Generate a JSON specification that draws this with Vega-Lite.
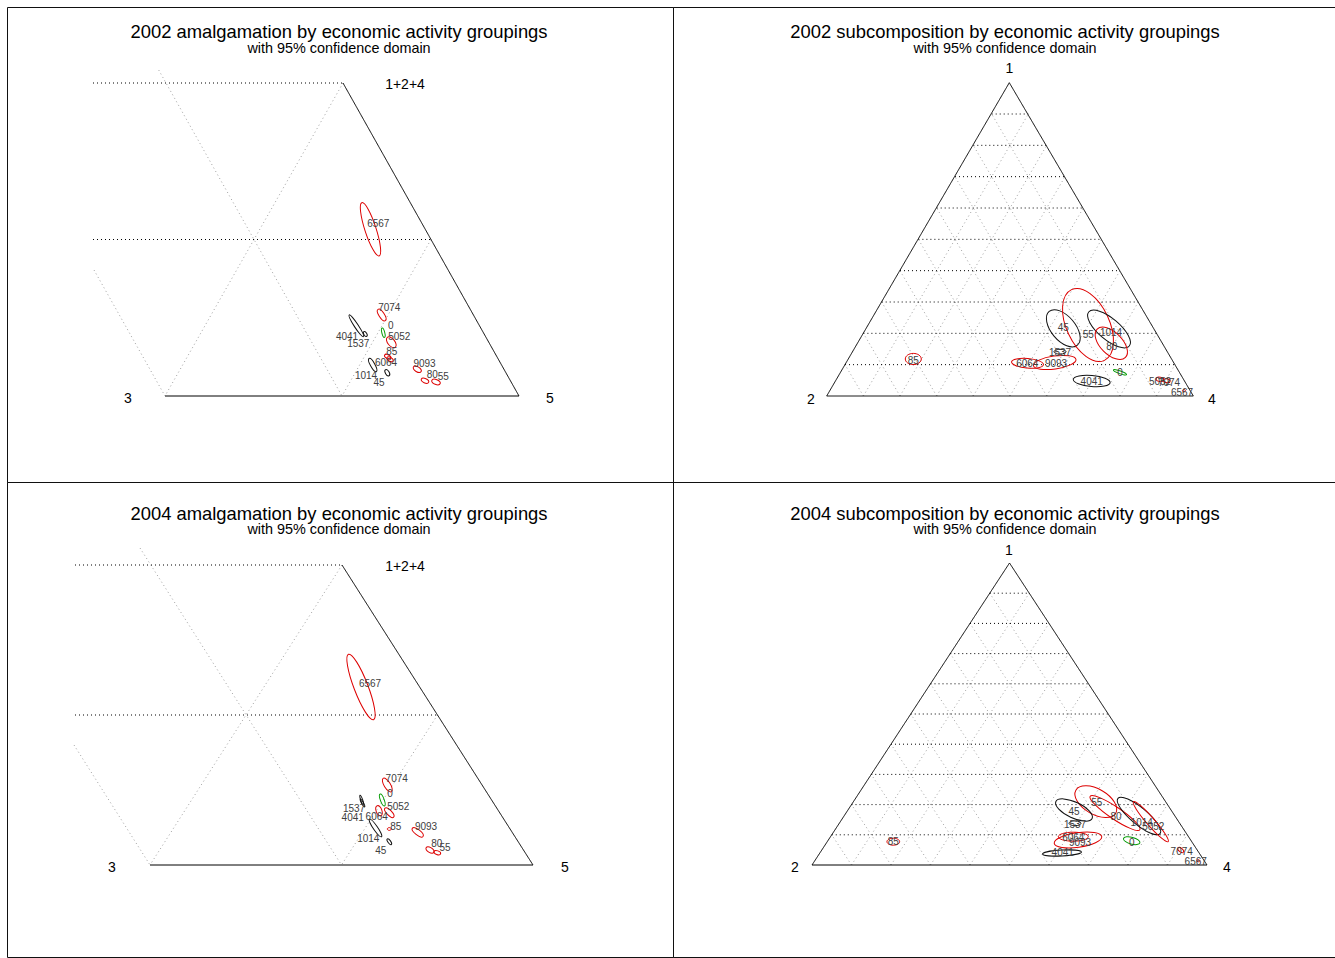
{
"$schema":"https://vega.github.io/schema/vega-lite/v6.json",
"padding":{"left":6,"top":6,"right":0,"bottom":0},
"background":"white",
"bounds":"flush",
"columns":2,
"spacing":0,
"config":{"view":{"stroke":"#111111","strokeWidth":1}},
"datasets":{
"lines":[
{"p":"a02","k":"fine","x":158.7,"y":70,"x2":342,"y2":396},
{"p":"a02","k":"fine","x":343,"y":83,"x2":165,"y2":396},
{"p":"a02","k":"fine","x":94,"y":270,"x2":165,"y2":396},
{"p":"a02","k":"fine","x":431,"y":239.5,"x2":342,"y2":396},
{"p":"a02","k":"grid","x":93,"y":83,"x2":343,"y2":83},
{"p":"a02","k":"grid","x":93,"y":239.5,"x2":431,"y2":239.5},
{"p":"a02","k":"edge","x":165,"y":396,"x2":519,"y2":396},
{"p":"a02","k":"edge","x":343,"y":83,"x2":519,"y2":396},
{"p":"a04","k":"fine","x":140,"y":548,"x2":341.5,"y2":865},
{"p":"a04","k":"fine","x":342,"y":565,"x2":150,"y2":865},
{"p":"a04","k":"fine","x":74,"y":745,"x2":150,"y2":865},
{"p":"a04","k":"fine","x":437.5,"y":715,"x2":341.5,"y2":865},
{"p":"a04","k":"grid","x":75,"y":565,"x2":342,"y2":565},
{"p":"a04","k":"grid","x":75,"y":715,"x2":437.5,"y2":715},
{"p":"a04","k":"edge","x":150,"y":865,"x2":533,"y2":865},
{"p":"a04","k":"edge","x":342,"y":565,"x2":533,"y2":865},
{"p":"s02","k":"fine","x":863.4,"y":396,"x2":1028.3,"y2":114},
{"p":"s02","k":"fine","x":900,"y":396,"x2":1046.7,"y2":145.33},
{"p":"s02","k":"fine","x":936.7,"y":396,"x2":1065,"y2":176.67},
{"p":"s02","k":"fine","x":973.3,"y":396,"x2":1083.3,"y2":208},
{"p":"s02","k":"fine","x":1010,"y":396,"x2":1101.7,"y2":239.33},
{"p":"s02","k":"fine","x":1046.7,"y":396,"x2":1120,"y2":270.67},
{"p":"s02","k":"fine","x":1083.3,"y":396,"x2":1138.3,"y2":302},
{"p":"s02","k":"fine","x":1120,"y":396,"x2":1156.7,"y2":333.33},
{"p":"s02","k":"fine","x":1156.6,"y":396,"x2":1175,"y2":364.67},
{"p":"s02","k":"fine","x":863.4,"y":396,"x2":845,"y2":364.67},
{"p":"s02","k":"fine","x":900,"y":396,"x2":863.4,"y2":333.33},
{"p":"s02","k":"fine","x":936.7,"y":396,"x2":881.7,"y2":302},
{"p":"s02","k":"fine","x":973.3,"y":396,"x2":900,"y2":270.67},
{"p":"s02","k":"fine","x":1010,"y":396,"x2":918.4,"y2":239.33},
{"p":"s02","k":"fine","x":1046.7,"y":396,"x2":936.7,"y2":208},
{"p":"s02","k":"fine","x":1083.3,"y":396,"x2":955,"y2":176.67},
{"p":"s02","k":"fine","x":1120,"y":396,"x2":973.3,"y2":145.33},
{"p":"s02","k":"fine","x":1156.6,"y":396,"x2":991.7,"y2":114},
{"p":"s02","k":"grid","x":845,"y":364.67,"x2":1175,"y2":364.67},
{"p":"s02","k":"grid","x":863.4,"y":333.33,"x2":1156.7,"y2":333.33},
{"p":"s02","k":"grid","x":881.7,"y":302,"x2":1138.3,"y2":302},
{"p":"s02","k":"grid","x":900,"y":270.67,"x2":1120,"y2":270.67},
{"p":"s02","k":"grid","x":918.4,"y":239.33,"x2":1101.7,"y2":239.33},
{"p":"s02","k":"grid","x":936.7,"y":208,"x2":1083.3,"y2":208},
{"p":"s02","k":"grid","x":955,"y":176.67,"x2":1065,"y2":176.67},
{"p":"s02","k":"grid","x":973.3,"y":145.33,"x2":1046.7,"y2":145.33},
{"p":"s02","k":"grid","x":991.7,"y":114,"x2":1028.3,"y2":114},
{"p":"s02","k":"edge","x":826.7,"y":396,"x2":1009.3,"y2":82.7},
{"p":"s02","k":"edge","x":1009.3,"y":82.7,"x2":1193.3,"y2":396},
{"p":"s02","k":"edge","x":826.7,"y":396,"x2":1193.3,"y2":396},
{"p":"s04","k":"fine","x":851.5,"y":865,"x2":1029.25,"y2":593.2},
{"p":"s04","k":"fine","x":891,"y":865,"x2":1049,"y2":623.4},
{"p":"s04","k":"fine","x":930.5,"y":865,"x2":1068.75,"y2":653.6},
{"p":"s04","k":"fine","x":970,"y":865,"x2":1088.5,"y2":683.8},
{"p":"s04","k":"fine","x":1009.5,"y":865,"x2":1108.25,"y2":714},
{"p":"s04","k":"fine","x":1049,"y":865,"x2":1128,"y2":744.2},
{"p":"s04","k":"fine","x":1088.5,"y":865,"x2":1147.75,"y2":774.4},
{"p":"s04","k":"fine","x":1128,"y":865,"x2":1167.5,"y2":804.6},
{"p":"s04","k":"fine","x":1167.5,"y":865,"x2":1187.25,"y2":834.8},
{"p":"s04","k":"fine","x":851.5,"y":865,"x2":831.75,"y2":834.8},
{"p":"s04","k":"fine","x":891,"y":865,"x2":851.5,"y2":804.6},
{"p":"s04","k":"fine","x":930.5,"y":865,"x2":871.25,"y2":774.4},
{"p":"s04","k":"fine","x":970,"y":865,"x2":891,"y2":744.2},
{"p":"s04","k":"fine","x":1009.5,"y":865,"x2":910.75,"y2":714},
{"p":"s04","k":"fine","x":1049,"y":865,"x2":930.5,"y2":683.8},
{"p":"s04","k":"fine","x":1088.5,"y":865,"x2":950.25,"y2":653.6},
{"p":"s04","k":"fine","x":1128,"y":865,"x2":970,"y2":623.4},
{"p":"s04","k":"fine","x":1167.5,"y":865,"x2":989.75,"y2":593.2},
{"p":"s04","k":"grid","x":831.75,"y":834.8,"x2":1187.25,"y2":834.8},
{"p":"s04","k":"grid","x":851.5,"y":804.6,"x2":1167.5,"y2":804.6},
{"p":"s04","k":"grid","x":871.25,"y":774.4,"x2":1147.75,"y2":774.4},
{"p":"s04","k":"grid","x":891,"y":744.2,"x2":1128,"y2":744.2},
{"p":"s04","k":"grid","x":910.75,"y":714,"x2":1108.25,"y2":714},
{"p":"s04","k":"grid","x":930.5,"y":683.8,"x2":1088.5,"y2":683.8},
{"p":"s04","k":"grid","x":950.25,"y":653.6,"x2":1068.75,"y2":653.6},
{"p":"s04","k":"grid","x":970,"y":623.4,"x2":1049,"y2":623.4},
{"p":"s04","k":"grid","x":989.75,"y":593.2,"x2":1029.25,"y2":593.2},
{"p":"s04","k":"edge","x":812,"y":865,"x2":1009.5,"y2":563},
{"p":"s04","k":"edge","x":1009.5,"y":563,"x2":1207,"y2":865},
{"p":"s04","k":"edge","x":812,"y":865,"x2":1207,"y2":865}
],
"ellipses":[
{"p":"a02","c":"6567","g":"services","x":370.5,"y":229.3,"len":56,"asp":"a20","ang":72},
{"p":"a02","c":"7074","g":"services","x":381.7,"y":315,"len":13.5,"asp":"a40","ang":57},
{"p":"a02","c":"0","g":"unknown","x":383.3,"y":332.7,"len":9.6,"asp":"a30","ang":76},
{"p":"a02","c":"5052","g":"services","x":391.3,"y":342.3,"len":12.8,"asp":"a55","ang":51},
{"p":"a02","c":"4041","g":"industry","x":356.3,"y":325.8,"len":26,"asp":"a15","ang":57},
{"p":"a02","c":"1537","g":"industry","x":365.3,"y":334,"len":5.5,"asp":"a55","ang":60},
{"p":"a02","c":"85","g":"services","x":387.7,"y":356.7,"len":7,"asp":"a55","ang":30},
{"p":"a02","c":"6064","g":"services","x":390,"y":359.3,"len":7,"asp":"a55","ang":30},
{"p":"a02","c":"1014","g":"industry","x":372.7,"y":365,"len":15,"asp":"a30","ang":61},
{"p":"a02","c":"45","g":"industry","x":387.3,"y":372.7,"len":7,"asp":"a55","ang":60},
{"p":"a02","c":"9093","g":"services","x":417.3,"y":369.3,"len":9,"asp":"a55","ang":30},
{"p":"a02","c":"80","g":"services","x":425,"y":380.7,"len":8,"asp":"a55","ang":25},
{"p":"a02","c":"55","g":"services","x":436,"y":382,"len":9,"asp":"a55","ang":20},
{"p":"s02","c":"45","g":"industry","x":1063.3,"y":328.3,"len":44,"asp":"a55","ang":50},
{"p":"s02","c":"55","g":"services","x":1088,"y":325,"len":78,"asp":"a55","ang":65},
{"p":"s02","c":"1014","g":"industry","x":1109,"y":329,"len":53,"asp":"a40","ang":40},
{"p":"s02","c":"80","g":"services","x":1111.3,"y":343.3,"len":40,"asp":"a55","ang":45},
{"p":"s02","c":"1537","g":"industry","x":1060,"y":351.7,"len":12,"asp":"a40","ang":0},
{"p":"s02","c":"6064","g":"services","x":1027.5,"y":363.3,"len":32,"asp":"a30","ang":5},
{"p":"s02","c":"9093","g":"services","x":1054.7,"y":362.5,"len":43,"asp":"a30","ang":352},
{"p":"s02","c":"4041","g":"industry","x":1091.7,"y":381,"len":37,"asp":"a30","ang":5},
{"p":"s02","c":"0","g":"unknown","x":1120,"y":372.3,"len":14,"asp":"a20","ang":20},
{"p":"s02","c":"85","g":"services","x":913.3,"y":359,"len":16,"asp":"a70","ang":0},
{"p":"s02","c":"5052","g":"services","x":1160,"y":379.3,"len":8,"asp":"a55","ang":10},
{"p":"s02","c":"7074","g":"services","x":1166.7,"y":380.7,"len":7,"asp":"a55","ang":10},
{"p":"s02","c":"6567","g":"services","x":1184,"y":390.7,"len":3,"asp":"a70","ang":0},
{"p":"a04","c":"6567","g":"services","x":361,"y":687,"len":70,"asp":"a20","ang":69},
{"p":"a04","c":"7074","g":"services","x":387.3,"y":785,"len":15.7,"asp":"a40","ang":58},
{"p":"a04","c":"0","g":"unknown","x":382.3,"y":800,"len":12.7,"asp":"a30","ang":70},
{"p":"a04","c":"5052","g":"services","x":389.3,"y":812.7,"len":12.5,"asp":"a40","ang":46},
{"p":"a04","c":"6064","g":"services","x":379,"y":810.7,"len":10.5,"asp":"a55","ang":72},
{"p":"a04","c":"1537","g":"industry","x":361.7,"y":800,"len":10,"asp":"a20","ang":70},
{"p":"a04","c":"4041","g":"industry","x":362.5,"y":803,"len":9,"asp":"a20","ang":60},
{"p":"a04","c":"1014","g":"industry","x":375.5,"y":828,"len":21.3,"asp":"a20","ang":55},
{"p":"a04","c":"85","g":"services","x":389.3,"y":829,"len":4,"asp":"a70","ang":0},
{"p":"a04","c":"45","g":"industry","x":389.3,"y":841.7,"len":7,"asp":"a40","ang":55},
{"p":"a04","c":"9093","g":"services","x":417.7,"y":832.3,"len":13.5,"asp":"a40","ang":38},
{"p":"a04","c":"80","g":"services","x":430,"y":850,"len":9,"asp":"a55","ang":30},
{"p":"a04","c":"55","g":"services","x":437.3,"y":852.7,"len":7,"asp":"a55","ang":20},
{"p":"s04","c":"55","g":"services","x":1095.8,"y":801.7,"len":46,"asp":"a55","ang":30},
{"p":"s04","c":"45","g":"industry","x":1074,"y":810,"len":40,"asp":"a40","ang":25},
{"p":"s04","c":"80","g":"services","x":1115,"y":813,"len":60,"asp":"a20","ang":34},
{"p":"s04","c":"1014","g":"industry","x":1139,"y":816,"len":55,"asp":"a30","ang":40},
{"p":"s04","c":"5052","g":"services","x":1150.8,"y":821.7,"len":53,"asp":"a15","ang":49},
{"p":"s04","c":"1537","g":"industry","x":1075,"y":823.3,"len":12,"asp":"a40","ang":0},
{"p":"s04","c":"6064","g":"services","x":1073.3,"y":836.7,"len":30,"asp":"a30","ang":0},
{"p":"s04","c":"9093","g":"services","x":1078,"y":840,"len":48,"asp":"a30","ang":352},
{"p":"s04","c":"4041","g":"industry","x":1062,"y":853,"len":39,"asp":"a15","ang":357},
{"p":"s04","c":"0","g":"unknown","x":1131.7,"y":840.7,"len":17,"asp":"a40","ang":15},
{"p":"s04","c":"7074","g":"services","x":1180.7,"y":850,"len":7,"asp":"a55","ang":40},
{"p":"s04","c":"6567","g":"services","x":1198.3,"y":860.7,"len":3,"asp":"a70","ang":0},
{"p":"s04","c":"85","g":"services","x":893.3,"y":841.7,"len":12.7,"asp":"a55","ang":0}
],
"labels":[
{"p":"a02","t":"6567","x":378.3,"y":224.3},
{"p":"a02","t":"7074","x":389.3,"y":308.3},
{"p":"a02","t":"0","x":390.7,"y":326.3},
{"p":"a02","t":"5052","x":399.3,"y":336.7},
{"p":"a02","t":"4041","x":347,"y":336.5},
{"p":"a02","t":"1537","x":358.3,"y":344},
{"p":"a02","t":"85","x":391.7,"y":352.3},
{"p":"a02","t":"6064","x":386,"y":362.7},
{"p":"a02","t":"1014","x":366,"y":375.7},
{"p":"a02","t":"45","x":379,"y":382.7},
{"p":"a02","t":"9093","x":424.5,"y":363.5},
{"p":"a02","t":"80","x":432.3,"y":375},
{"p":"a02","t":"55","x":443.3,"y":376.7},
{"p":"s02","t":"45","x":1063.3,"y":328.3},
{"p":"s02","t":"55","x":1088.3,"y":334.5},
{"p":"s02","t":"1014","x":1111,"y":333},
{"p":"s02","t":"80","x":1111.7,"y":347.3},
{"p":"s02","t":"1537","x":1060,"y":353},
{"p":"s02","t":"6064","x":1027.3,"y":364},
{"p":"s02","t":"9093","x":1056,"y":364},
{"p":"s02","t":"4041","x":1091.7,"y":382},
{"p":"s02","t":"0","x":1120,"y":373.3},
{"p":"s02","t":"85","x":913.3,"y":360.5},
{"p":"s02","t":"5052","x":1160,"y":382},
{"p":"s02","t":"7074","x":1169,"y":383.3},
{"p":"s02","t":"6567","x":1182,"y":392.7},
{"p":"a04","t":"6567","x":370,"y":684},
{"p":"a04","t":"7074","x":396.7,"y":779.3},
{"p":"a04","t":"0","x":390,"y":794.3},
{"p":"a04","t":"5052","x":398.3,"y":807.3},
{"p":"a04","t":"4041","x":352.7,"y":817.7},
{"p":"a04","t":"6064","x":376.7,"y":816.7},
{"p":"a04","t":"1537","x":354,"y":809},
{"p":"a04","t":"1014","x":368.3,"y":839},
{"p":"a04","t":"85","x":395.7,"y":826.7},
{"p":"a04","t":"45","x":380.7,"y":851},
{"p":"a04","t":"9093","x":426,"y":826.7},
{"p":"a04","t":"80","x":436.7,"y":844},
{"p":"a04","t":"55","x":445,"y":848.3},
{"p":"s04","t":"55","x":1096.7,"y":803.3},
{"p":"s04","t":"45","x":1074,"y":811.7},
{"p":"s04","t":"80","x":1116,"y":816.7},
{"p":"s04","t":"1014","x":1141.7,"y":822.7},
{"p":"s04","t":"5052","x":1153.3,"y":827.3},
{"p":"s04","t":"1537","x":1075,"y":824.5},
{"p":"s04","t":"6064","x":1073.3,"y":837.7},
{"p":"s04","t":"9093","x":1080,"y":842.7},
{"p":"s04","t":"4041","x":1062.7,"y":852.7},
{"p":"s04","t":"0","x":1131.7,"y":842.7},
{"p":"s04","t":"7074","x":1181.7,"y":851.7},
{"p":"s04","t":"6567","x":1195.7,"y":861.7},
{"p":"s04","t":"85","x":893.3,"y":842}
],
"texts":[
{"p":"a02","k":"title","t":"2002 amalgamation by economic activity groupings","x":339,"y":32},
{"p":"a02","k":"sub","t":"with 95% confidence domain","x":339,"y":48.5},
{"p":"a02","k":"vertex","t":"1+2+4","x":405,"y":85},
{"p":"a02","k":"vertex","t":"3","x":128,"y":399},
{"p":"a02","k":"vertex","t":"5","x":550,"y":399},
{"p":"s02","k":"title","t":"2002 subcomposition by economic activity groupings","x":1005,"y":32},
{"p":"s02","k":"sub","t":"with 95% confidence domain","x":1005,"y":48.5},
{"p":"s02","k":"vertex","t":"1","x":1009.3,"y":69},
{"p":"s02","k":"vertex","t":"2","x":811,"y":399.5},
{"p":"s02","k":"vertex","t":"4","x":1212,"y":399.5},
{"p":"a04","k":"title","t":"2004 amalgamation by economic activity groupings","x":339,"y":514},
{"p":"a04","k":"sub","t":"with 95% confidence domain","x":339,"y":530},
{"p":"a04","k":"vertex","t":"1+2+4","x":405,"y":567},
{"p":"a04","k":"vertex","t":"3","x":112,"y":868},
{"p":"a04","k":"vertex","t":"5","x":565,"y":868},
{"p":"s04","k":"title","t":"2004 subcomposition by economic activity groupings","x":1005,"y":514},
{"p":"s04","k":"sub","t":"with 95% confidence domain","x":1005,"y":530},
{"p":"s04","k":"vertex","t":"1","x":1009,"y":551},
{"p":"s04","k":"vertex","t":"2","x":795,"y":868},
{"p":"s04","k":"vertex","t":"4","x":1227,"y":868}
]
},
"resolve":{"scale":{"x":"independent","y":"independent"}},
"concat":[
{"width":666,"height":475,
"encoding":{"x":{"field":"x","type":"quantitative","scale":{"domain":[7,673],"nice":false,"zero":false},"axis":null},
"y":{"field":"y","type":"quantitative","scale":{"domain":[7,482],"nice":false,"zero":false,"reverse":true},"axis":null}},
"layer":[
{"data":{"name":"lines"},"transform":[{"filter":"datum.p=='a02'"}],"mark":{"type":"rule","strokeWidth":1},
"encoding":{"x2":{"field":"x2"},"y2":{"field":"y2"},
"color":{"field":"k","type":"nominal","scale":{"domain":["edge","grid","fine"],"range":["#000000","#000000","#a0a0a0"]},"legend":null},
"strokeDash":{"field":"k","type":"nominal","scale":{"domain":["edge","grid","fine"],"range":[[1,0],[1,3],[1,3]]},"legend":null}}},
{"data":{"name":"ellipses"},"transform":[{"filter":"datum.p=='a02'"}],"mark":{"type":"point","filled":false,"opacity":1,"strokeWidth":1},
"encoding":{"size":{"field":"len","type":"quantitative","scale":{"type":"pow","exponent":2,"domain":[0,100],"range":[0,10000]},"legend":null},
"shape":{"field":"asp","type":"nominal","scale":{"domain":["a15","a20","a30","a40","a55","a70","a85"],"range":["M-1,0A1,0.15,0,1,0,1,0A1,0.15,0,1,0,-1,0Z","M-1,0A1,0.2,0,1,0,1,0A1,0.2,0,1,0,-1,0Z","M-1,0A1,0.3,0,1,0,1,0A1,0.3,0,1,0,-1,0Z","M-1,0A1,0.4,0,1,0,1,0A1,0.4,0,1,0,-1,0Z","M-1,0A1,0.55,0,1,0,1,0A1,0.55,0,1,0,-1,0Z","M-1,0A1,0.7,0,1,0,1,0A1,0.7,0,1,0,-1,0Z","M-1,0A1,0.85,0,1,0,1,0A1,0.85,0,1,0,-1,0Z"]},"legend":null},
"angle":{"field":"ang","type":"quantitative","scale":null},
"stroke":{"field":"g","type":"nominal","scale":{"domain":["industry","services","unknown"],"range":["#111111","#dd0000","#009a00"]},"legend":null}}},
{"data":{"name":"labels"},"transform":[{"filter":"datum.p=='a02'"}],"mark":{"type":"text","fontSize":10,"font":"Liberation Sans","color":"#404040","baseline":"middle"},"encoding":{"text":{"field":"t"}}},
{"data":{"name":"texts"},"transform":[{"filter":"datum.p=='a02' && datum.k=='vertex'"}],"mark":{"type":"text","fontSize":14,"font":"Liberation Sans","color":"#000000","baseline":"middle"},"encoding":{"text":{"field":"t"}}},
{"data":{"name":"texts"},"transform":[{"filter":"datum.p=='a02' && datum.k=='title'"}],"mark":{"type":"text","fontSize":18.4,"font":"Liberation Sans","color":"#000000","baseline":"middle"},"encoding":{"text":{"field":"t"}}},
{"data":{"name":"texts"},"transform":[{"filter":"datum.p=='a02' && datum.k=='sub'"}],"mark":{"type":"text","fontSize":14.4,"font":"Liberation Sans","color":"#000000","baseline":"middle"},"encoding":{"text":{"field":"t"}}}
]},
{"width":666,"height":475,
"encoding":{"x":{"field":"x","type":"quantitative","scale":{"domain":[673,1339],"nice":false,"zero":false},"axis":null},
"y":{"field":"y","type":"quantitative","scale":{"domain":[7,482],"nice":false,"zero":false,"reverse":true},"axis":null}},
"layer":[
{"data":{"name":"lines"},"transform":[{"filter":"datum.p=='s02'"}],"mark":{"type":"rule","strokeWidth":1},
"encoding":{"x2":{"field":"x2"},"y2":{"field":"y2"},
"color":{"field":"k","type":"nominal","scale":{"domain":["edge","grid","fine"],"range":["#000000","#000000","#a0a0a0"]},"legend":null},
"strokeDash":{"field":"k","type":"nominal","scale":{"domain":["edge","grid","fine"],"range":[[1,0],[1,3],[1,3]]},"legend":null}}},
{"data":{"name":"ellipses"},"transform":[{"filter":"datum.p=='s02'"}],"mark":{"type":"point","filled":false,"opacity":1,"strokeWidth":1},
"encoding":{"size":{"field":"len","type":"quantitative","scale":{"type":"pow","exponent":2,"domain":[0,100],"range":[0,10000]},"legend":null},
"shape":{"field":"asp","type":"nominal","scale":{"domain":["a15","a20","a30","a40","a55","a70","a85"],"range":["M-1,0A1,0.15,0,1,0,1,0A1,0.15,0,1,0,-1,0Z","M-1,0A1,0.2,0,1,0,1,0A1,0.2,0,1,0,-1,0Z","M-1,0A1,0.3,0,1,0,1,0A1,0.3,0,1,0,-1,0Z","M-1,0A1,0.4,0,1,0,1,0A1,0.4,0,1,0,-1,0Z","M-1,0A1,0.55,0,1,0,1,0A1,0.55,0,1,0,-1,0Z","M-1,0A1,0.7,0,1,0,1,0A1,0.7,0,1,0,-1,0Z","M-1,0A1,0.85,0,1,0,1,0A1,0.85,0,1,0,-1,0Z"]},"legend":null},
"angle":{"field":"ang","type":"quantitative","scale":null},
"stroke":{"field":"g","type":"nominal","scale":{"domain":["industry","services","unknown"],"range":["#111111","#dd0000","#009a00"]},"legend":null}}},
{"data":{"name":"labels"},"transform":[{"filter":"datum.p=='s02'"}],"mark":{"type":"text","fontSize":10,"font":"Liberation Sans","color":"#404040","baseline":"middle"},"encoding":{"text":{"field":"t"}}},
{"data":{"name":"texts"},"transform":[{"filter":"datum.p=='s02' && datum.k=='vertex'"}],"mark":{"type":"text","fontSize":14,"font":"Liberation Sans","color":"#000000","baseline":"middle"},"encoding":{"text":{"field":"t"}}},
{"data":{"name":"texts"},"transform":[{"filter":"datum.p=='s02' && datum.k=='title'"}],"mark":{"type":"text","fontSize":18.4,"font":"Liberation Sans","color":"#000000","baseline":"middle"},"encoding":{"text":{"field":"t"}}},
{"data":{"name":"texts"},"transform":[{"filter":"datum.p=='s02' && datum.k=='sub'"}],"mark":{"type":"text","fontSize":14.4,"font":"Liberation Sans","color":"#000000","baseline":"middle"},"encoding":{"text":{"field":"t"}}}
]},
{"width":666,"height":475,
"encoding":{"x":{"field":"x","type":"quantitative","scale":{"domain":[7,673],"nice":false,"zero":false},"axis":null},
"y":{"field":"y","type":"quantitative","scale":{"domain":[482,957],"nice":false,"zero":false,"reverse":true},"axis":null}},
"layer":[
{"data":{"name":"lines"},"transform":[{"filter":"datum.p=='a04'"}],"mark":{"type":"rule","strokeWidth":1},
"encoding":{"x2":{"field":"x2"},"y2":{"field":"y2"},
"color":{"field":"k","type":"nominal","scale":{"domain":["edge","grid","fine"],"range":["#000000","#000000","#a0a0a0"]},"legend":null},
"strokeDash":{"field":"k","type":"nominal","scale":{"domain":["edge","grid","fine"],"range":[[1,0],[1,3],[1,3]]},"legend":null}}},
{"data":{"name":"ellipses"},"transform":[{"filter":"datum.p=='a04'"}],"mark":{"type":"point","filled":false,"opacity":1,"strokeWidth":1},
"encoding":{"size":{"field":"len","type":"quantitative","scale":{"type":"pow","exponent":2,"domain":[0,100],"range":[0,10000]},"legend":null},
"shape":{"field":"asp","type":"nominal","scale":{"domain":["a15","a20","a30","a40","a55","a70","a85"],"range":["M-1,0A1,0.15,0,1,0,1,0A1,0.15,0,1,0,-1,0Z","M-1,0A1,0.2,0,1,0,1,0A1,0.2,0,1,0,-1,0Z","M-1,0A1,0.3,0,1,0,1,0A1,0.3,0,1,0,-1,0Z","M-1,0A1,0.4,0,1,0,1,0A1,0.4,0,1,0,-1,0Z","M-1,0A1,0.55,0,1,0,1,0A1,0.55,0,1,0,-1,0Z","M-1,0A1,0.7,0,1,0,1,0A1,0.7,0,1,0,-1,0Z","M-1,0A1,0.85,0,1,0,1,0A1,0.85,0,1,0,-1,0Z"]},"legend":null},
"angle":{"field":"ang","type":"quantitative","scale":null},
"stroke":{"field":"g","type":"nominal","scale":{"domain":["industry","services","unknown"],"range":["#111111","#dd0000","#009a00"]},"legend":null}}},
{"data":{"name":"labels"},"transform":[{"filter":"datum.p=='a04'"}],"mark":{"type":"text","fontSize":10,"font":"Liberation Sans","color":"#404040","baseline":"middle"},"encoding":{"text":{"field":"t"}}},
{"data":{"name":"texts"},"transform":[{"filter":"datum.p=='a04' && datum.k=='vertex'"}],"mark":{"type":"text","fontSize":14,"font":"Liberation Sans","color":"#000000","baseline":"middle"},"encoding":{"text":{"field":"t"}}},
{"data":{"name":"texts"},"transform":[{"filter":"datum.p=='a04' && datum.k=='title'"}],"mark":{"type":"text","fontSize":18.4,"font":"Liberation Sans","color":"#000000","baseline":"middle"},"encoding":{"text":{"field":"t"}}},
{"data":{"name":"texts"},"transform":[{"filter":"datum.p=='a04' && datum.k=='sub'"}],"mark":{"type":"text","fontSize":14.4,"font":"Liberation Sans","color":"#000000","baseline":"middle"},"encoding":{"text":{"field":"t"}}}
]},
{"width":666,"height":475,
"encoding":{"x":{"field":"x","type":"quantitative","scale":{"domain":[673,1339],"nice":false,"zero":false},"axis":null},
"y":{"field":"y","type":"quantitative","scale":{"domain":[482,957],"nice":false,"zero":false,"reverse":true},"axis":null}},
"layer":[
{"data":{"name":"lines"},"transform":[{"filter":"datum.p=='s04'"}],"mark":{"type":"rule","strokeWidth":1},
"encoding":{"x2":{"field":"x2"},"y2":{"field":"y2"},
"color":{"field":"k","type":"nominal","scale":{"domain":["edge","grid","fine"],"range":["#000000","#000000","#a0a0a0"]},"legend":null},
"strokeDash":{"field":"k","type":"nominal","scale":{"domain":["edge","grid","fine"],"range":[[1,0],[1,3],[1,3]]},"legend":null}}},
{"data":{"name":"ellipses"},"transform":[{"filter":"datum.p=='s04'"}],"mark":{"type":"point","filled":false,"opacity":1,"strokeWidth":1},
"encoding":{"size":{"field":"len","type":"quantitative","scale":{"type":"pow","exponent":2,"domain":[0,100],"range":[0,10000]},"legend":null},
"shape":{"field":"asp","type":"nominal","scale":{"domain":["a15","a20","a30","a40","a55","a70","a85"],"range":["M-1,0A1,0.15,0,1,0,1,0A1,0.15,0,1,0,-1,0Z","M-1,0A1,0.2,0,1,0,1,0A1,0.2,0,1,0,-1,0Z","M-1,0A1,0.3,0,1,0,1,0A1,0.3,0,1,0,-1,0Z","M-1,0A1,0.4,0,1,0,1,0A1,0.4,0,1,0,-1,0Z","M-1,0A1,0.55,0,1,0,1,0A1,0.55,0,1,0,-1,0Z","M-1,0A1,0.7,0,1,0,1,0A1,0.7,0,1,0,-1,0Z","M-1,0A1,0.85,0,1,0,1,0A1,0.85,0,1,0,-1,0Z"]},"legend":null},
"angle":{"field":"ang","type":"quantitative","scale":null},
"stroke":{"field":"g","type":"nominal","scale":{"domain":["industry","services","unknown"],"range":["#111111","#dd0000","#009a00"]},"legend":null}}},
{"data":{"name":"labels"},"transform":[{"filter":"datum.p=='s04'"}],"mark":{"type":"text","fontSize":10,"font":"Liberation Sans","color":"#404040","baseline":"middle"},"encoding":{"text":{"field":"t"}}},
{"data":{"name":"texts"},"transform":[{"filter":"datum.p=='s04' && datum.k=='vertex'"}],"mark":{"type":"text","fontSize":14,"font":"Liberation Sans","color":"#000000","baseline":"middle"},"encoding":{"text":{"field":"t"}}},
{"data":{"name":"texts"},"transform":[{"filter":"datum.p=='s04' && datum.k=='title'"}],"mark":{"type":"text","fontSize":18.4,"font":"Liberation Sans","color":"#000000","baseline":"middle"},"encoding":{"text":{"field":"t"}}},
{"data":{"name":"texts"},"transform":[{"filter":"datum.p=='s04' && datum.k=='sub'"}],"mark":{"type":"text","fontSize":14.4,"font":"Liberation Sans","color":"#000000","baseline":"middle"},"encoding":{"text":{"field":"t"}}}
]}
]
}
